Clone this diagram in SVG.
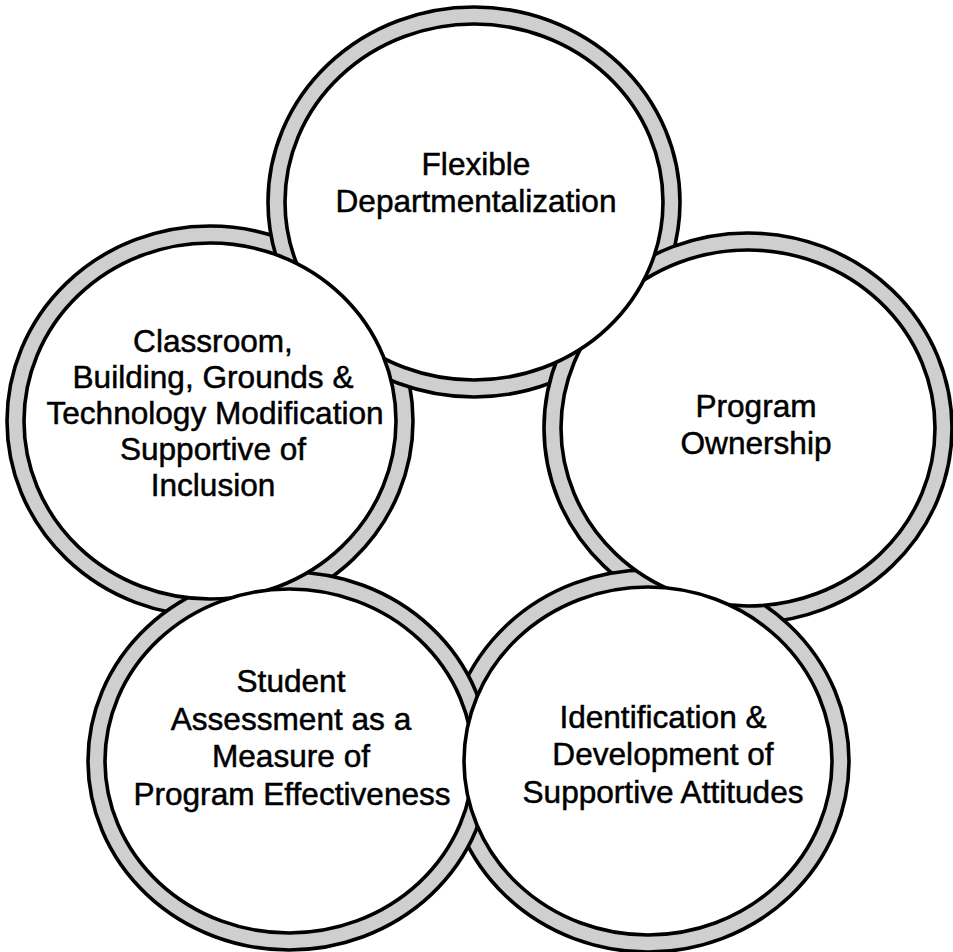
<svg xmlns="http://www.w3.org/2000/svg" width="953" height="952" viewBox="0 0 953 952">
  <style>
    .ring { fill: #cfcfcf; stroke: #000; stroke-width: 3.6; }
    .face { fill: #fff; stroke: #000; stroke-width: 3.6; }
    .label { font-family: "Liberation Sans", Arial, sans-serif; font-size: 31.6px; fill: #000; stroke: #000; stroke-width: 0.5; text-anchor: middle; }
  </style>
  <rect width="953" height="952" fill="#fff"/>

  <!-- Outer shaded rings, stacked so each band passes over or under its neighbour -->
  <g id="rings">
    <ellipse id="ring-classroom" class="ring" cx="210" cy="421" rx="203" ry="195"/>
    <ellipse id="ring-flexible" class="ring" cx="474" cy="202" rx="206" ry="195"/>
    <ellipse id="ring-ownership" class="ring" cx="748" cy="428" rx="204" ry="195"/>
    <ellipse id="ring-attitudes" class="ring" cx="648" cy="761" rx="201" ry="191"/>
    <ellipse id="ring-assessment" class="ring" cx="289" cy="761" rx="201" ry="189"/>
  </g>

  <!-- Nodes: white faces with their labels -->
  <g id="node-ownership">
    <ellipse class="face" cx="748" cy="428" rx="187" ry="178"/>
    <text class="label" x="756" y="417">Program</text>
    <text class="label" x="756" y="454">Ownership</text>
  </g>
  <g id="node-flexible">
    <ellipse class="face" cx="474" cy="202" rx="189" ry="178"/>
    <text class="label" x="476" y="175">Flexible</text>
    <text class="label" x="476" y="212">Departmentalization</text>
  </g>
  <g id="node-classroom">
    <ellipse class="face" cx="210" cy="421" rx="186" ry="178"/>
    <text class="label" x="213" y="352">Classroom,</text>
    <text class="label" x="213" y="388">Building, Grounds &amp;</text>
    <text class="label" x="215" y="424">Technology Modification</text>
    <text class="label" x="213" y="460">Supportive of</text>
    <text class="label" x="213" y="496">Inclusion</text>
  </g>
  <g id="node-assessment">
    <ellipse class="face" cx="289" cy="761" rx="184" ry="172"/>
    <text class="label" x="291" y="692">Student</text>
    <text class="label" x="291" y="729.5">Assessment as a</text>
    <text class="label" x="291" y="767">Measure of</text>
    <text class="label" x="292" y="804.5">Program Effectiveness</text>
  </g>
  <g id="node-attitudes">
    <ellipse class="face" cx="648" cy="761" rx="184" ry="174"/>
    <text class="label" x="663" y="728">Identification &amp;</text>
    <text class="label" x="663" y="765">Development of</text>
    <text class="label" x="663" y="803">Supportive Attitudes</text>
  </g>
</svg>
